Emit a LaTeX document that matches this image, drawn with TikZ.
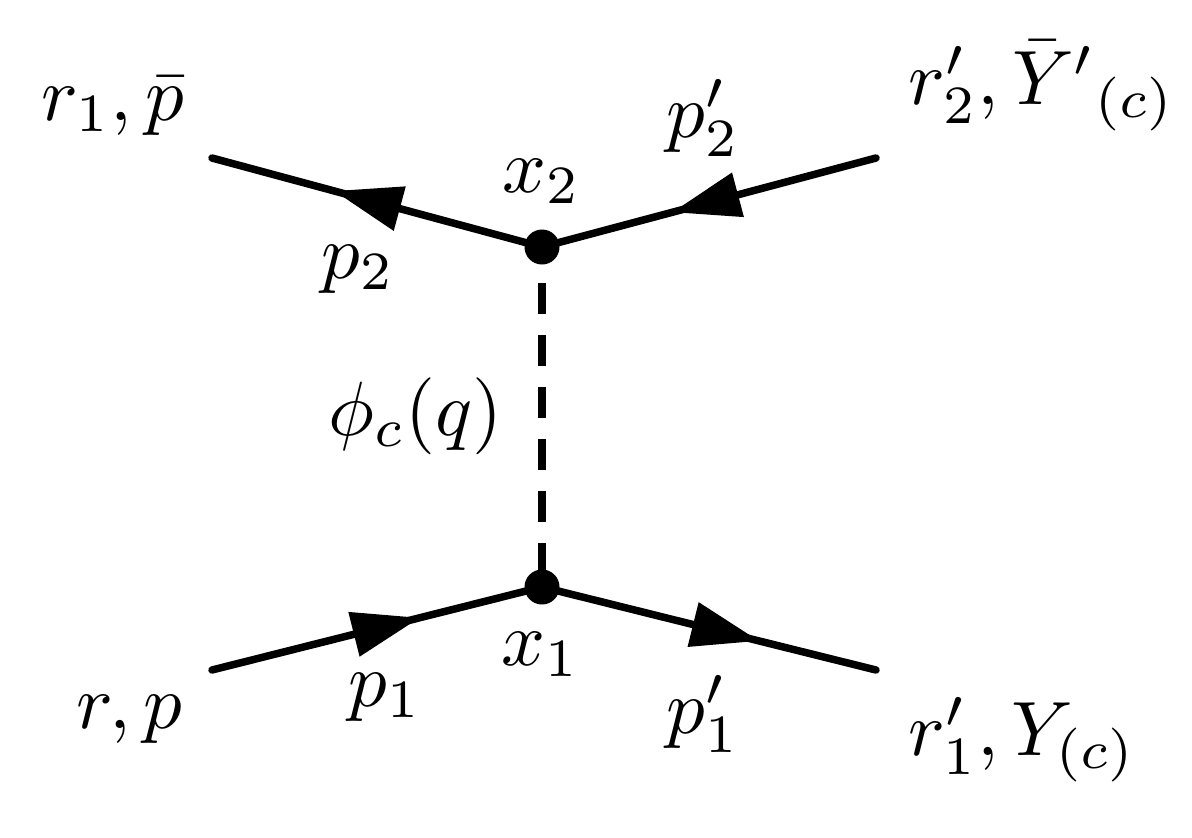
\documentclass[tikz,border=0pt]{standalone}
\usetikzlibrary{arrows.meta,decorations.markings}
\begin{document}
\begin{tikzpicture}[x=1pt,y=-1pt,
  lbl/.style={inner sep=0pt, scale=7.7, anchor=base west},
  vtx/.style={circle, fill=black, inner sep=0pt, minimum size=35pt},
  fermion/.style={line width=7.5pt, line cap=round, postaction={decorate},
    decoration={markings, mark=at position #1 with {\arrow{Triangle[length=68pt,width=44pt]}}}},
  scalar/.style={line width=7.5pt, dash pattern=on 31pt off 21pt, dash phase=16pt}]
\useasboundingbox (0,0) rectangle (1192,838);
\coordinate (v2) at (542,247);
\coordinate (v1) at (542,587);
\coordinate (e1) at (212,158);
\coordinate (e2) at (876,158);
\coordinate (e3) at (212,670);
\coordinate (e4) at (876,670);
\draw[fermion=0.63] (v2) -- (e1);
\draw[fermion=0.61] (e2) -- (v2);
\draw[fermion=0.63] (e3) -- (v1);
\draw[fermion=0.65] (v1) -- (e4);
\draw[scalar] (v2) -- (v1);
\node[vtx] (x2) at (v2) {};
\node[vtx] (x1) at (v1) {};
\node[lbl] (l1) at (40,120) {$r_1,\bar{p}$};
\node[lbl, anchor=base] (lx2) at (542,192) {$x_2$};
\node[lbl] (lp2) at (320,278) {$p_2$};
\node[lbl] (lp2p) at (665,137) {$p'_2$};
\node[lbl] (l2) at (907,104) {$r'_2,\bar{Y}'{}_{(c)}$};
\node[lbl] (lphi) at (327,435) {$\phi_c(q)$};
\node[lbl, anchor=base] (lx1) at (541,665) {$x_1$};
\node[lbl] (l3) at (75,728) {$r,p$};
\node[lbl] (lp1) at (347,706) {$p_1$};
\node[lbl] (lp1p) at (665,733) {$p'_1$};
\node[lbl] (l4) at (907,755) {$r'_1,Y_{(c)}$};
\end{tikzpicture}
\end{document}
